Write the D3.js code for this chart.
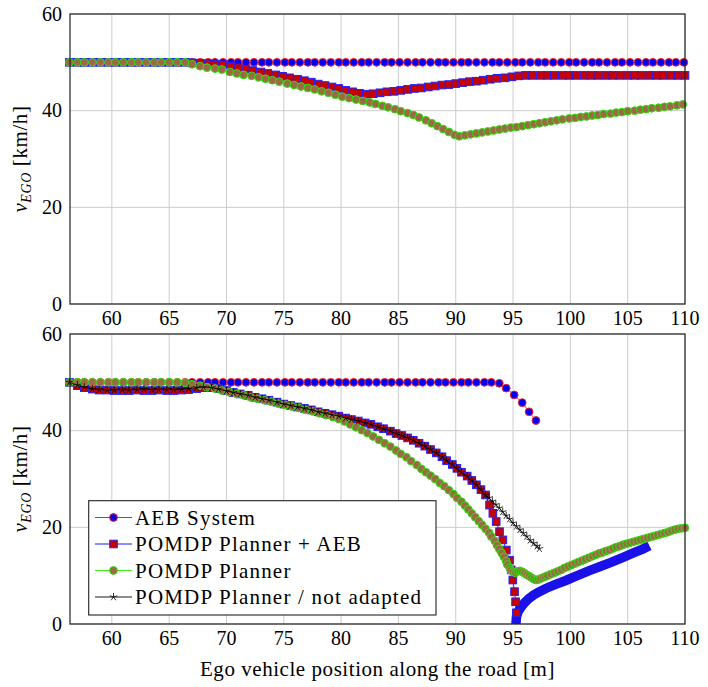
<!DOCTYPE html>
<html><head><meta charset="utf-8"><script src="https://cdn.jsdelivr.net/npm/d3@7"></script></head>
<body style="margin:0">
<div style="position:relative;width:708px;height:687px">
<svg id="marks" width="708" height="687" style="position:absolute;left:0;top:0"></svg>
<svg id="labels" width="708" height="687" style="position:absolute;left:0;top:0"></svg>
</div>
<script>
// ---- data (position [m], speed [km/h]) ----
var xTicks = [60, 65, 70, 75, 80, 85, 90, 95, 100, 105, 110];
var yTicks = [0, 20, 40, 60];
var legendLabels = ["AEB System", "POMDP Planner + AEB", "POMDP Planner", "POMDP Planner / not adapted"];

// top panel
var aebTop = [[56.3,50],[57.0,50],[57.6,50],[58.3,50],[59.0,50],[59.7,50],[60.3,50],[61.0,50],[61.7,50],[62.3,50],[63.0,50],[63.7,50],[64.3,50],[65.0,50],[65.7,50],[66.4,50],[67.0,50],[67.7,50],[68.4,50],[69.0,50],[69.7,50],[70.4,50],[71.0,50],[71.7,50],[72.4,50],[73.1,50],[73.7,50],[74.4,50],[75.1,50],[75.7,50],[76.4,50],[77.1,50],[77.7,50],[78.4,50],[79.1,50],[79.8,50],[80.4,50],[81.1,50],[81.8,50],[82.4,50],[83.1,50],[83.8,50],[84.4,50],[85.1,50],[85.8,50],[86.5,50],[87.1,50],[87.8,50],[88.5,50],[89.1,50],[89.8,50],[90.5,50],[91.1,50],[91.8,50],[92.5,50],[93.2,50],[93.8,50],[94.5,50],[95.2,50],[95.8,50],[96.5,50],[97.2,50],[97.8,50],[98.5,50],[99.2,50],[99.9,50],[100.5,50],[101.2,50],[101.9,50],[102.5,50],[103.2,50],[103.9,50],[104.5,50],[105.2,50],[105.9,50],[106.6,50],[107.2,50],[107.9,50],[108.6,50],[109.2,50],[109.9,50]];

var pomdpAebTop = [[56.3,50],[57.0,50],[57.6,50],[58.3,50],[59.0,50],[59.7,50],[60.3,50],[61.0,50],[61.7,50],[62.3,50],[63.0,50],[63.7,50],[64.3,50],[65.0,50],[65.7,50],[66.4,50],[67.0,49.9],[67.7,49.8],[68.4,49.7],[69.0,49.6],[69.7,49.5],[70.4,49.2],[71.0,48.9],[71.7,48.6],[72.3,48.3],[73.0,48.0],[73.6,47.7],[74.3,47.4],[74.9,47.1],[75.5,46.8],[76.2,46.5],[76.8,46.2],[77.4,45.9],[78.0,45.5],[78.6,45.2],[79.2,44.9],[79.8,44.6],[80.4,44.2],[81.0,43.9],[81.6,43.6],[82.2,43.4],[82.8,43.5],[83.4,43.7],[84.0,43.9],[84.6,44.0],[85.2,44.2],[85.8,44.4],[86.4,44.6],[87.0,44.7],[87.6,44.9],[88.2,45.1],[88.8,45.3],[89.4,45.4],[90.0,45.6],[90.6,45.8],[91.2,46.0],[91.8,46.1],[92.4,46.3],[93.0,46.5],[93.6,46.7],[94.3,46.8],[94.9,47.0],[95.5,47.2],[96.1,47.3],[96.7,47.3],[97.4,47.3],[98.0,47.3],[98.6,47.3],[99.3,47.3],[99.9,47.3],[100.5,47.3],[101.2,47.3],[101.8,47.3],[102.4,47.3],[103.1,47.3],[103.7,47.3],[104.3,47.3],[105.0,47.3],[105.6,47.3],[106.2,47.3],[106.9,47.3],[107.5,47.3],[108.1,47.3],[108.8,47.3],[109.4,47.3],[110.0,47.3]];

var pomdpTop = [[56.3,50],[57.0,50],[57.6,50],[58.3,50],[59.0,50],[59.7,50],[60.3,50],[61.0,50],[61.7,50],[62.3,50],[63.0,50],[63.7,50],[64.3,50],[65.0,50],[65.7,50],[66.4,50],[67.0,49.6],[67.7,49.2],[68.3,48.9],[69.0,48.7],[69.6,48.5],[70.3,48.0],[70.9,47.7],[71.5,47.4],[72.2,47.2],[72.8,46.9],[73.4,46.6],[74.0,46.3],[74.6,46.0],[75.3,45.6],[75.9,45.3],[76.5,45.0],[77.1,44.7],[77.7,44.4],[78.3,44.0],[78.9,43.7],[79.5,43.3],[80.1,42.9],[80.7,42.6],[81.3,42.3],[81.9,42.0],[82.5,41.7],[83.0,41.4],[83.6,41.0],[84.1,40.7],[84.7,40.3],[85.2,39.9],[85.8,39.5],[86.3,39.1],[86.8,38.6],[87.4,38.0],[87.9,37.4],[88.4,36.8],[88.9,36.2],[89.4,35.6],[89.9,35.0],[90.3,34.7],[90.8,34.9],[91.3,35.1],[91.8,35.3],[92.3,35.5],[92.8,35.7],[93.3,35.9],[93.8,36.1],[94.3,36.3],[94.8,36.5],[95.3,36.6],[95.8,36.8],[96.3,37.0],[96.8,37.2],[97.3,37.4],[97.8,37.6],[98.3,37.8],[98.8,38.0],[99.3,38.2],[99.9,38.4],[100.4,38.5],[100.9,38.7],[101.4,38.8],[101.9,39.0],[102.4,39.1],[102.9,39.3],[103.5,39.4],[104.0,39.6],[104.5,39.7],[105.0,39.9],[105.6,40.0],[106.1,40.2],[106.6,40.3],[107.1,40.5],[107.7,40.6],[108.2,40.8],[108.7,40.9],[109.3,41.1],[109.8,41.3]];

// bottom panel
var aebBottom = [[56.3,50],[57.0,50],[57.6,50],[58.3,50],[59.0,50],[59.7,50],[60.3,50],[61.0,50],[61.7,50],[62.3,50],[63.0,50],[63.7,50],[64.3,50],[65.0,50],[65.7,50],[66.4,50],[67.0,50],[67.7,50],[68.4,50],[69.0,50],[69.7,50],[70.4,50],[71.0,50],[71.7,50],[72.4,50],[73.1,50],[73.7,50],[74.4,50],[75.1,50],[75.7,50],[76.4,50],[77.1,50],[77.7,50],[78.4,50],[79.1,50],[79.8,50],[80.4,50],[81.1,50],[81.8,50],[82.4,50],[83.1,50],[83.8,50],[84.4,50],[85.1,50],[85.8,50],[86.5,50],[87.1,50],[87.8,50],[88.5,50],[89.1,50],[89.8,50],[90.5,50],[91.1,50],[91.8,50],[92.5,50],[93.1,50],[93.8,49.8],[94.4,48.8],[95.1,47.4],[95.8,45.8],[96.4,43.9],[97.0,42.1]];

var pomdpAebBottom = [[56.3,50.0],[57.0,49.3],[57.6,48.9],[58.3,48.6],[58.9,48.4],[59.6,48.4],[60.2,48.3],[60.9,48.3],[61.5,48.3],[62.2,48.4],[62.8,48.3],[63.5,48.3],[64.1,48.4],[64.8,48.3],[65.4,48.3],[66.1,48.4],[66.7,48.5],[67.4,48.7],[68.0,48.9],[68.7,48.9],[69.3,48.7],[70.0,48.3],[70.6,47.9],[71.2,47.6],[71.9,47.3],[72.5,46.9],[73.1,46.6],[73.7,46.3],[74.4,45.9],[75.0,45.5],[75.6,45.2],[76.2,44.9],[76.8,44.6],[77.4,44.3],[78.0,43.9],[78.6,43.6],[79.2,43.3],[79.8,43.0],[80.4,42.6],[80.9,42.3],[81.5,42.0],[82.1,41.6],[82.6,41.3],[83.2,40.8],[83.7,40.4],[84.3,39.9],[84.8,39.4],[85.3,39.0],[85.8,38.5],[86.3,38.0],[86.8,37.4],[87.3,36.8],[87.8,36.1],[88.3,35.4],[88.8,34.6],[89.2,33.8],[89.7,33.0],[90.1,32.2],[90.5,31.4],[91.0,30.6],[91.4,29.7],[91.8,28.8],[92.2,27.8],[92.6,26.7],[92.95,24.6],[93.24,22.9],[93.53,21.2],[93.82,19.1],[94.11,17.4],[94.41,15.3],[94.69,13.2],[94.84,11.2],[94.98,9.1],[95.13,6.7],[95.22,4.6],[95.28,2.3]];

// same run after the stop (drawn as a dense band)
var pomdpAebRestart = [[95.25,0],[95.3,1.5],[95.45,2.6],[95.7,3.5],[96.0,4.4],[96.4,5.3],[96.8,6.0],[97.3,6.7],[97.9,7.4],[98.6,8.1],[99.6,9.0],[100.6,10.0],[101.6,11.0],[102.6,11.9],[103.6,12.8],[104.6,13.8],[105.5,14.7],[106.3,15.5],[106.9,16.2]];

var pomdpBottom = [[56.3,50],[57.0,50],[57.6,50],[58.3,50],[59.0,50],[59.7,50],[60.3,50],[61.0,50],[61.7,50],[62.3,50],[63.0,50],[63.7,50],[64.3,50],[65.0,50],[65.7,50],[66.4,49.9],[67.0,49.6],[67.7,49.3],[68.3,49.0],[69.0,48.7],[69.6,48.3],[70.2,48.0],[70.9,47.6],[71.5,47.3],[72.1,46.9],[72.7,46.6],[73.3,46.3],[73.9,46.0],[74.5,45.6],[75.1,45.3],[75.7,45.0],[76.3,44.7],[76.9,44.3],[77.5,44.0],[78.1,43.6],[78.7,43.2],[79.3,42.8],[79.8,42.4],[80.3,41.9],[80.8,41.3],[81.3,40.7],[81.8,40.1],[82.3,39.5],[82.8,38.8],[83.3,38.1],[83.8,37.4],[84.3,36.7],[84.8,35.9],[85.2,35.2],[85.7,34.5],[86.1,33.7],[86.6,32.9],[87.0,32.1],[87.4,31.4],[87.8,30.7],[88.2,30.0],[88.6,29.2],[89.0,28.5],[89.4,27.7],[89.8,26.9],[90.1,26.1],[90.5,25.3],[90.8,24.5],[91.1,23.7],[91.4,22.9],[91.7,22.1],[92.0,21.3],[92.3,20.5],[92.6,19.7],[92.9,18.9],[93.1,18.1],[93.4,17.2],[93.6,16.3],[93.8,15.5],[94.0,14.7],[94.2,13.9],[94.4,13.0],[94.5,12.3],[94.7,11.6],[94.8,11.1],[95.0,10.8],[95.2,10.6],[95.4,10.9],[95.6,11.0],[95.8,10.8],[96.0,10.5],[96.2,10.2],[96.4,9.9],[96.6,9.6],[96.8,9.3],[97.0,9.1],[97.2,9.2],[97.4,9.4],[97.6,9.6],[97.8,9.8],[98.0,10.0],[98.3,10.3],[98.6,10.6],[98.9,10.9],[99.2,11.2],[99.5,11.6],[99.8,11.9],[100.1,12.2],[100.4,12.5],[100.7,12.8],[101.0,13.1],[101.3,13.4],[101.6,13.7],[101.9,14.0],[102.2,14.3],[102.5,14.6],[102.8,14.8],[103.1,15.1],[103.4,15.3],[103.7,15.6],[104.0,15.9],[104.3,16.1],[104.6,16.4],[104.9,16.6],[105.2,16.8],[105.5,17.0],[105.8,17.2],[106.1,17.4],[106.4,17.6],[106.7,17.8],[107.0,18.0],[107.3,18.2],[107.6,18.4],[107.9,18.6],[108.2,18.8],[108.5,19.0],[108.8,19.3],[109.1,19.5],[109.4,19.7],[109.7,19.8],[110.0,19.9]];

var notAdaptedBottom = [[56.3,50.0],[57.0,49.4],[57.6,49.0],[58.3,48.6],[58.9,48.5],[59.6,48.4],[60.2,48.4],[60.9,48.5],[61.5,48.4],[62.2,48.5],[62.8,48.6],[63.5,48.5],[64.1,48.5],[64.8,48.5],[65.4,48.5],[66.1,48.6],[66.7,48.7],[67.4,48.9],[68.0,49.0],[68.7,48.9],[69.3,48.6],[70.0,48.2],[70.6,47.9],[71.2,47.6],[71.9,47.3],[72.5,46.9],[73.1,46.6],[73.7,46.3],[74.4,45.9],[75.0,45.5],[75.6,45.2],[76.2,44.9],[76.8,44.6],[77.4,44.3],[78.0,43.9],[78.6,43.6],[79.2,43.3],[79.8,43.0],[80.4,42.6],[80.9,42.3],[81.5,42.0],[82.1,41.6],[82.6,41.3],[83.2,40.8],[83.7,40.4],[84.3,39.9],[84.8,39.4],[85.3,39.0],[85.8,38.5],[86.3,38.0],[86.8,37.4],[87.3,36.8],[87.8,36.1],[88.3,35.4],[88.8,34.6],[89.2,33.8],[89.7,33.0],[90.1,32.2],[90.5,31.4],[91.0,30.6],[91.4,29.7],[91.8,28.8],[92.2,27.8],[92.6,26.7],[92.9,26.1],[93.2,25.4],[93.5,24.7],[93.8,24.0],[94.1,23.2],[94.4,22.4],[94.7,21.7],[95.0,20.9],[95.3,20.2],[95.6,19.5],[95.9,18.8],[96.2,18.1],[96.5,17.3],[96.8,16.7],[97.1,16.1],[97.3,15.6]];

// ---- layout ----
var left = 70, right = 685;
var fontName = "Liberation Serif";
var svg = d3.select("#marks");
var lab = d3.select("#labels");

var x = d3.scaleLinear().domain([56.35, 110]).range([left, right]);

// marker styles
var styles = {
    aeb:   { type: "circle", line: "#ff0000", fill: "#0000f0", edge: "#ff2020" },
    pAeb:  { type: "square", line: "#0000ff", fill: "#c80000", edge: "#2020ff" },
    pomdp: { type: "circle", line: "#22ee00", fill: "#9a6a42", edge: "#30e010" },
    notAd: { type: "star",   line: "#000000", fill: "none",    edge: "#000000" }
};

function starPath(r) {
    var p = "";
    for (var k = 0; k < 5; k++) {
        var a = -Math.PI / 2 + k * 2 * Math.PI / 5;
        p += "M0,0L" + (r * Math.cos(a)).toFixed(2) + "," + (r * Math.sin(a)).toFixed(2);
    }
    return p;
}

function addMarkers(sel, st) {
    if (st.type == "circle") {
        sel.append("circle")
            .attr("r", 3.9)
            .attr("fill", st.fill)
            .attr("stroke", st.edge)
            .attr("stroke-width", 1);
    } else if (st.type == "square") {
        sel.append("rect")
            .attr("x", -3.8).attr("y", -3.8)
            .attr("width", 7.6).attr("height", 7.6)
            .attr("fill", st.fill)
            .attr("stroke", st.edge)
            .attr("stroke-width", 1);
    } else {
        sel.append("path")
            .attr("d", starPath(4))
            .attr("fill", "none")
            .attr("stroke", st.edge)
            .attr("stroke-width", 0.8);
    }
}

function drawPanel(top, bottom, series, bands) {
    var y = d3.scaleLinear().domain([0, 60]).range([bottom, top]);
    var g = svg.append("g");

    // grid lines
    g.selectAll(".gx").data(xTicks).enter().append("line")
        .attr("x1", function(d) { return x(d); }).attr("x2", function(d) { return x(d); })
        .attr("y1", top).attr("y2", bottom)
        .attr("stroke", "#cccccc").attr("stroke-width", 1);
    g.selectAll(".gy").data(yTicks).enter().append("line")
        .attr("x1", left).attr("x2", right)
        .attr("y1", function(d) { return y(d); }).attr("y2", function(d) { return y(d); })
        .attr("stroke", "#cccccc").attr("stroke-width", 1);

    // tick labels (label layer)
    lab.selectAll(".xl" + top).data(xTicks).enter().append("text")
        .attr("x", function(d) { return x(d); })
        .attr("y", bottom + 21)
        .attr("text-anchor", "middle")
        .attr("font-family", fontName)
        .attr("font-size", 20)
        .text(function(d) { return d; });
    lab.selectAll(".yl" + top).data(yTicks).enter().append("text")
        .attr("x", left - 8)
        .attr("y", function(d) { return y(d) + 6.5; })
        .attr("text-anchor", "end")
        .attr("font-family", fontName)
        .attr("font-size", 20)
        .text(function(d) { return d; });

    // y label
    var yl = lab.append("text")
        .attr("transform", "translate(27," + ((top + bottom) / 2) + ") rotate(-90)")
        .attr("text-anchor", "middle")
        .attr("font-family", fontName)
        .attr("font-size", 21)
        .attr("letter-spacing", 0.6);
    yl.append("tspan").attr("font-style", "italic").text("v");
    yl.append("tspan").attr("font-style", "italic").attr("font-size", 14).attr("dy", 4).text("EGO");
    yl.append("tspan").attr("dy", -4).text(" [km/h]");

    var clip = "clip" + top;
    g.append("clipPath").attr("id", clip)
        .append("rect").attr("x", left).attr("y", top)
        .attr("width", right - left).attr("height", bottom - top);

    var line = d3.line()
        .x(function(d) { return x(d[0]); })
        .y(function(d) { return y(d[1]); });

    series.forEach(function(s) {
        var st = styles[s.style];
        if (bands[s.style]) {
            g.append("path")
                .datum(bands[s.style])
                .attr("clip-path", "url(#" + clip + ")")
                .attr("d", line)
                .attr("fill", "none")
                .attr("stroke", "#1a10e8")
                .attr("stroke-width", 9.5);
        }
        g.append("path")
            .datum(s.data)
            .attr("d", line)
            .attr("fill", "none")
            .attr("stroke", st.line)
            .attr("stroke-width", 0.8);
        var m = g.append("g").selectAll("g")
            .data(s.data)
            .enter().append("g")
            .attr("transform", function(d) { return "translate(" + x(d[0]) + "," + y(d[1]) + ")"; });
        addMarkers(m, st);
    });

    // frame
    g.append("rect")
        .attr("x", left).attr("y", top)
        .attr("width", right - left).attr("height", bottom - top)
        .attr("fill", "none")
        .attr("stroke", "#222")
        .attr("stroke-width", 1.2);
    return g;
}

drawPanel(14, 304, [
    { style: "aeb", data: aebTop },
    { style: "pAeb", data: pomdpAebTop },
    { style: "pomdp", data: pomdpTop }
], {});

var gb = drawPanel(334, 624, [
    { style: "aeb", data: aebBottom },
    { style: "pAeb", data: pomdpAebBottom },
    { style: "pomdp", data: pomdpBottom },
    { style: "notAd", data: notAdaptedBottom }
], { pAeb: pomdpAebRestart });

// legend box and samples (marks layer)
var lg = gb.append("g");
lg.append("rect")
    .attr("x", 88.7).attr("y", 500.7)
    .attr("width", 347.3).attr("height", 114.3)
    .attr("fill", "#fff")
    .attr("stroke", "#222")
    .attr("stroke-width", 1.1);
var keys = ["aeb", "pAeb", "pomdp", "notAd"];
var row = lg.selectAll(".row").data(keys).enter().append("g")
    .attr("transform", function(d, i) { return "translate(0," + (517.5 + i * 26.5) + ")"; });
row.append("line")
    .attr("x1", 95).attr("x2", 132)
    .attr("stroke", function(d) { return styles[d].line; })
    .attr("stroke-width", 0.9);
row.each(function(d) {
    var m = d3.select(this).append("g").attr("transform", "translate(113.5,0)");
    addMarkers(m, styles[d]);
});

// legend text (label layer)
lab.selectAll(".lt").data(legendLabels).enter().append("text")
    .attr("x", 135)
    .attr("y", function(d, i) { return 524.5 + i * 26.5; })
    .attr("font-family", fontName)
    .attr("font-size", 21)
    .attr("letter-spacing", 1.2)
    .text(function(d) { return d; });

// x axis label
lab.append("text")
    .attr("x", 377.5)
    .attr("y", 676)
    .attr("text-anchor", "middle")
    .attr("font-family", fontName)
    .attr("font-size", 21)
    .attr("letter-spacing", 0.55)
    .text("Ego vehicle position along the road [m]");
</script>
</body></html>
